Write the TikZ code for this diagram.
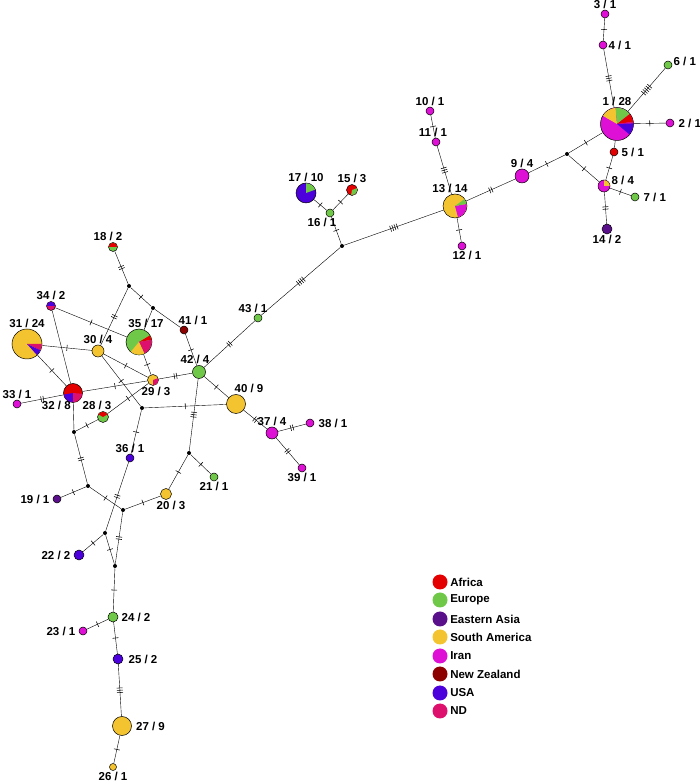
\documentclass[tikz,border=0pt]{standalone}
\usepackage{fontspec}
\setmainfont{Liberation Sans}
\usepackage{tikz}
\usetikzlibrary{positioning,decorations.markings,backgrounds}
\usepackage{xcolor}

\definecolor{africa}{RGB}{228,0,0}
\definecolor{europe}{RGB}{112,200,72}
\definecolor{easia}{RGB}{90,16,138}
\definecolor{samerica}{RGB}{244,196,48}
\definecolor{iran}{RGB}{222,16,214}
\definecolor{nzealand}{RGB}{140,0,0}
\definecolor{usa}{RGB}{76,0,220}
\definecolor{nd}{RGB}{222,16,110}

% slice of a pie: node, start, end, radius, colour
\newcommand{\hapslice}[5]{\fill[#5] (#1.center) -- ++(#2:#4) arc[start angle=#2,end angle=#3,radius=#4] -- cycle;}

\tikzset{
  hap/.style={circle, draw, line width=.5pt, inner sep=0pt, minimum size=#1},
  jn/.style={circle, fill=black, inner sep=0pt, minimum size=4},
  lbl/.style={font=\fontsize{11.5}{13}\selectfont\bfseries, inner sep=1pt},
  leg/.style={circle, inner sep=0pt, minimum size=15},
  legtxt/.style={font=\fontsize{11.5}{13}\selectfont\bfseries, inner sep=1pt, label distance=1pt},
  mut/.style={postaction={decorate,decoration={markings,mark=at position .5 with {%
    \foreach \k in {1,...,#1}{\draw[line width=.55pt] ({(\k-(#1+1)/2)*2.3pt},-3pt) -- ++(0pt,6pt);}}}}}
}

\begin{document}
\begin{tikzpicture}[x=1pt, y=1pt, line width=.75pt]
    \useasboundingbox (0,0) rectangle (700,782);

    % haplotypes, top right
    \node[hap=8, fill=iran, label={[lbl]above:3 / 1}] (h3) at (605,768) {};
    \node[hap=8, fill=iran, label={[lbl]right:4 / 1}] (h4) at (603,737) {};
    \node[hap=33, fill=iran, label={[lbl]above:1 / 28}] (h1) at (617,658) {};
    \node[hap=8, fill=europe, label={[lbl, yshift=4pt]right:6 / 1}] (h6) at (668,717) {};
    \node[hap=8, fill=iran, label={[lbl, label distance=3pt]right:2 / 1}] (h2) at (670,659) {};
    \node[hap=8, fill=africa, label={[lbl, label distance=2pt]right:5 / 1}] (h5) at (614,630) {};
    \node[jn] (j1) at (567,628) {};
    \node[hap=14, fill=iran, label={[lbl]above:9 / 4}] (h9) at (522,606) {};
    \node[hap=12, fill=iran, label={[lbl, yshift=6pt]right:8 / 4}] (h8) at (604,596) {};
    \node[hap=8, fill=europe, label={[lbl, label distance=3pt]right:7 / 1}] (h7) at (635,585) {};
    \node[hap=10, fill=easia, label={[lbl]below:14 / 2}] (h14) at (607,553) {};

    % haplotypes, centre top
    \node[hap=8, fill=iran, label={[lbl]above:10 / 1}] (h10) at (430,671) {};
    \node[hap=8, fill=iran, label={[lbl, xshift=-3pt]above:11 / 1}] (h11) at (436,640) {};
    \node[hap=24, fill=samerica, label={[lbl, xshift=-5pt]above:13 / 14}] (h13) at (455,576) {};
    \node[hap=8, fill=iran, label={[lbl, xshift=5pt]below:12 / 1}] (h12) at (462,536) {};
    \node[hap=20, fill=usa, label={[lbl]above:17 / 10}] (h17) at (306,589) {};
    \node[hap=11, fill=africa, label={[lbl]above:15 / 3}] (h15) at (352,592) {};
    \node[hap=8, fill=europe, label={[lbl, xshift=-8pt]below:16 / 1}] (h16) at (330,569) {};
    \node[jn] (j16) at (342,536) {};
    \node[hap=8, fill=europe, label={[lbl, xshift=-5pt]above:43 / 1}] (h43) at (258,464) {};

    % haplotypes, left
    \node[hap=9, fill=europe, label={[lbl, xshift=-5pt]above:18 / 2}] (h18) at (113,535) {};
    \node[jn] (j18) at (129,496) {};
    \node[jn] (j2) at (153,474) {};
    \node[hap=8, fill=nzealand, label={[lbl, xshift=9pt]above:41 / 1}] (h41) at (184,452) {};
    \node[hap=13, fill=europe, label={[lbl, xshift=-4pt]above:42 / 4}] (h42) at (199,410) {};
    \node[hap=19, fill=samerica, label={[lbl, xshift=13pt]above:40 / 9}] (h40) at (236,378) {};
    \node[hap=12, fill=iran, label={[lbl]above:37 / 4}] (h37) at (272,349) {};
    \node[hap=8, fill=iran, label={[lbl, label distance=3pt]right:38 / 1}] (h38) at (310,359) {};
    \node[hap=8, fill=iran, label={[lbl]below:39 / 1}] (h39) at (302,314) {};
    \node[hap=9, fill=nd, label={[lbl]above:34 / 2}] (h34) at (51,476) {};
    \node[hap=26, fill=europe, label={[lbl, xshift=7pt]above:35 / 17}] (h35) at (139,440) {};
    \node[hap=30, fill=samerica, label={[lbl]above:31 / 24}] (h31) at (27,438) {};
    \node[hap=12, fill=samerica, label={[lbl]above:30 / 4}] (h30) at (98,431) {};
    \node[hap=11, fill=samerica, label={[lbl, xshift=3pt]below:29 / 3}] (h29) at (153,402) {};
    \node[hap=19, fill=africa, label={[lbl, xshift=6pt]below left:32 / 8}] (h32) at (73,389) {};
    \node[hap=8, fill=iran, label={[lbl]above:33 / 1}] (h33) at (17,378) {};
    \node[hap=11, fill=europe, label={[lbl, xshift=-6pt]above:28 / 3}] (h28) at (103,365) {};
    \node[jn] (j40) at (142,374) {};
    \node[jn] (j32) at (74,350) {};

    % haplotypes, bottom
    \node[hap=8, fill=usa, label={[lbl]above:36 / 1}] (h36) at (130,324) {};
    \node[jn] (j42) at (189,329) {};
    \node[hap=8, fill=europe, label={[lbl]below:21 / 1}] (h21) at (214,305) {};
    \node[hap=11, fill=samerica, label={[lbl, xshift=5pt]below:20 / 3}] (h20) at (166,288) {};
    \node[jn] (j19) at (88,296) {};
    \node[hap=8, fill=easia, label={[lbl, label distance=2pt]left:19 / 1}] (h19) at (57,283) {};
    \node[jn] (j20) at (123,272) {};
    \node[jn] (j22) at (105,249) {};
    \node[hap=10, fill=usa, label={[lbl, label distance=2pt]left:22 / 2}] (h22) at (79,227) {};
    \node[jn] (j24) at (115,216) {};
    \node[hap=10, fill=europe, label={[lbl, label distance=2pt]right:24 / 2}] (h24) at (113,165) {};
    \node[hap=8, fill=iran, label={[lbl, label distance=2pt]left:23 / 1}] (h23) at (83,151) {};
    \node[hap=10, fill=usa, label={[lbl, label distance=4pt]right:25 / 2}] (h25) at (118,123) {};
    \node[hap=19, fill=samerica, label={[lbl, label distance=3pt]right:27 / 9}] (h27) at (122,56) {};
    \node[hap=7, fill=samerica, label={[lbl]below:26 / 1}] (h26) at (113,15) {};

    % pie slices
    \hapslice{h1}{95}{150}{16.2}{samerica}
    \hapslice{h1}{38}{95}{16.2}{europe}
    \hapslice{h1}{8}{38}{16.2}{africa}
    \hapslice{h1}{2}{8}{16.2}{nd}
    \hapslice{h1}{-40}{2}{16.2}{usa}
    \hapslice{h8}{0}{90}{5.7}{samerica}
    \hapslice{h13}{-75}{10}{11.7}{iran}
    \hapslice{h13}{10}{36}{11.7}{europe}
    \hapslice{h17}{20}{90}{9.7}{europe}
    \hapslice{h15}{-100}{20}{5.2}{europe}
    \hapslice{h18}{0}{180}{4.2}{africa}
    \hapslice{h34}{0}{180}{4.2}{usa}
    \hapslice{h35}{10}{31}{12.7}{africa}
    \hapslice{h35}{-65}{10}{12.7}{nd}
    \hapslice{h35}{-130}{-65}{12.7}{samerica}
    \hapslice{h31}{-25}{0}{14.7}{nd}
    \hapslice{h31}{-48}{-25}{14.7}{usa}
    \hapslice{h29}{-90}{20}{5.2}{nd}
    \hapslice{h32}{190}{270}{9.2}{usa}
    \hapslice{h32}{270}{355}{9.2}{nd}
    \hapslice{h28}{30}{150}{5.2}{africa}

    % legend
    \node[leg, fill=africa, label={[legtxt]right:Africa}] (lgafrica) at (440,200) {};
    \node[leg, fill=europe, label={[legtxt]right:Europe}] (lgeurope) at (440,182) {};
    \node[leg, fill=easia, label={[legtxt]right:Eastern Asia}] (lgeasia) at (440,163) {};
    \node[leg, fill=samerica, label={[legtxt]right:South America}] (lgsamerica) at (440,145) {};
    \node[leg, fill=iran, label={[legtxt]right:Iran}] (lgiran) at (440,126) {};
    \node[leg, fill=nzealand, label={[legtxt]right:New Zealand}] (lgnzealand) at (440,108) {};
    \node[leg, fill=usa, label={[legtxt]right:USA}] (lgusa) at (440,89) {};
    \node[leg, fill=nd, label={[legtxt]right:ND}] (lgnd) at (440,71) {};

    % mutational steps
    \begin{scope}[on background layer]
    \draw[mut=1] (h3) -- (h4);
    \draw[mut=3] (h4) -- (h1);
    \draw[mut=5] (h6) -- (h1);
    \draw[mut=1] (h2) -- (h1);
    \draw (h1) -- (h5);
    \draw[mut=1] (h5) -- (h8);
    \draw[mut=1] (h1) -- (j1);
    \draw[mut=1] (j1) -- (h9);
    \draw[mut=1] (j1) -- (h8);
    \draw[mut=1] (h8) -- (h7);
    \draw[mut=2] (h8) -- (h14);
    \draw[mut=2] (h9) -- (h13);
    \draw[mut=1] (h10) -- (h11);
    \draw[mut=3] (h11) -- (h13);
    \draw[mut=1] (h13) -- (h12);
    \draw[mut=4] (h13) -- (j16);
    \draw[mut=1] (j16) -- (h16);
    \draw[mut=1] (h16) -- (h17);
    \draw[mut=1] (h16) -- (h15);
    \draw[mut=4] (j16) -- (h43);
    \draw[mut=2] (h43) -- (h42);
    \draw[mut=1] (h41) -- (h42);
    \draw (j2) -- (h41);
    \draw[mut=1] (j18) -- (j2);
    \draw[mut=2] (h18) -- (j18);
    \draw[mut=2] (j18) -- (h30);
    \draw (j2) -- (h35);
    \draw[mut=1] (h34) -- (h35);
    \draw (h34) -- (h32);
    \draw[mut=1] (h31) -- (h30);
    \draw[mut=1] (h31) -- (h32);
    \draw[mut=2] (h33) -- (h32);
    \draw[mut=1] (h32) -- (h29);
    \draw[mut=2] (h29) -- (h42);
    \draw[mut=1] (h30) -- (h29);
    \draw[mut=1] (h35) -- (h29);
    \draw[mut=1] (h30) -- (j40);
    \draw[mut=1] (j40) -- (h40);
    \draw[mut=1] (h28) -- (h29);
    \draw[mut=1] (h28) -- (j32);
    \draw (h32) -- (j32);
    \draw[mut=1] (h42) -- (h40);
    \draw[mut=3] (h42) -- (j42);
    \draw[mut=2] (h40) -- (h37);
    \draw[mut=2] (h37) -- (h38);
    \draw[mut=2] (h37) -- (h39);
    \draw[mut=1] (j40) -- (h36);
    \draw[mut=2] (h36) -- (j22);
    \draw[mut=2] (j32) -- (j19);
    \draw[mut=1] (j19) -- (h19);
    \draw[mut=1] (j19) -- (j20);
    \draw[mut=1] (j20) -- (h20);
    \draw[mut=2] (j20) -- (j24);
    \draw[mut=1] (j22) -- (j24);
    \draw[mut=1] (j22) -- (h22);
    \draw[mut=1] (j42) -- (h20);
    \draw[mut=1] (j42) -- (h21);
    \draw[mut=1] (j24) -- (h24);
    \draw[mut=1] (h24) -- (h23);
    \draw[mut=1] (h24) -- (h25);
    \draw[mut=3] (h25) -- (h27);
    \draw[mut=1] (h27) -- (h26);
    \end{scope}
\end{tikzpicture}
\end{document}
